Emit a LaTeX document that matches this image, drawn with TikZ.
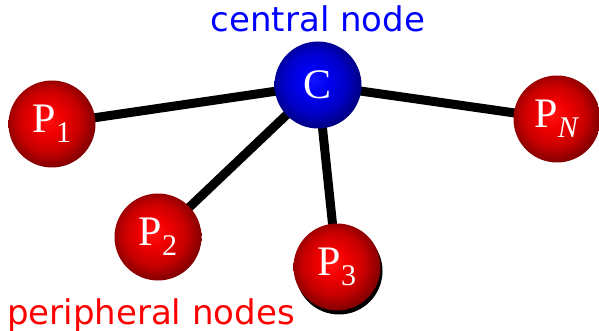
\documentclass[tikz,border=0pt]{standalone}
\usepackage{fontspec}
\setmainfont{Liberation Serif}
\newfontfamily\labelfont{DejaVu Sans}
\usetikzlibrary{backgrounds}
\pgfdeclareradialshading{redball}{\pgfqpoint{-3bp}{3bp}}{color(0bp)=(red!92!white); color(8bp)=(red!95!black); color(18bp)=(red!78!black); color(25bp)=(red!55!black); color(50bp)=(black)}
\pgfdeclareradialshading{blueball}{\pgfqpoint{-3bp}{3bp}}{color(0bp)=(blue!92!white); color(8bp)=(blue!95!black); color(18bp)=(blue!78!black); color(25bp)=(blue!55!black); color(50bp)=(black)}
\newcommand\psub[1]{\raisebox{-0.24em}{\fontsize{30}{30}\selectfont #1}}
\tikzset{
  ball/.style={circle, minimum size=87pt, inner sep=0pt, text=white, font=\fontsize{42}{42}\selectfont},
  redb/.style={ball, shading=redball},
  blueb/.style={ball, shading=blueball},
  shadowb/.style={circle, minimum size=87pt, inner sep=0pt, fill=black},
  link/.style={line width=9pt, black},
  lbl/.style={inner sep=0pt, font=\labelfont\fontsize{34}{34}\selectfont}
}
\begin{document}
\begin{tikzpicture}[x=1pt,y=-1pt]
\useasboundingbox (0,0) rectangle (599,331);
\node[lbl, text=blue, anchor=base] (ct) at (318,32) {central node};
\node[lbl, text=red, anchor=base west] (pt) at (7,324) {peripheral nodes};
\node[shadowb] (s3) at (339,271) {};
\node[blueb] (c) at (318,85) {C};
\node[redb] (p1) at (52,124) {P\psub{1}};
\node[redb] (p2) at (158,237) {P\psub{2}};
\node[redb] (p3) at (337,267) {P\psub{3}};
\node[redb] (pn) at (557,119) {P\psub{\textit{N}}};
\begin{pgfonlayer}{background}
\draw[link] (c.center) -- (p1.center);
\draw[link] (c.center) -- (p2.center);
\draw[link] (c.center) -- (p3.center);
\draw[link] (c.center) -- (pn.center);
\end{pgfonlayer}
\end{tikzpicture}
\end{document}
